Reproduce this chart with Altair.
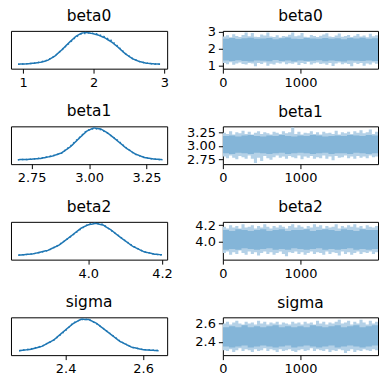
import altair as alt
import pandas as pd

names = ["beta0", "beta1", "beta2", "sigma"]

# ---- KDE panels (left column) ----
kde_x = {
    "beta0": [0.93, 1.05, 1.15, 1.25, 1.35, 1.45, 1.55, 1.65, 1.75, 1.82, 1.88, 1.95, 2.05, 2.15, 2.25, 2.35, 2.45, 2.55, 2.65, 2.75, 2.85, 2.94],
    "beta1": [2.69, 2.74, 2.79, 2.84, 2.88, 2.92, 2.96, 2.99, 3.02, 3.05, 3.08, 3.12, 3.16, 3.20, 3.24, 3.28, 3.32],
    "beta2": [3.81, 3.85, 3.89, 3.92, 3.95, 3.98, 4.00, 4.02, 4.04, 4.06, 4.09, 4.12, 4.15, 4.18, 4.20],
    "sigma": [2.28, 2.31, 2.34, 2.37, 2.40, 2.42, 2.44, 2.46, 2.48, 2.51, 2.54, 2.57, 2.60, 2.64],
}
kde_chain0 = {
    "beta0": [0.01, 0.02, 0.04, 0.07, 0.13, 0.26, 0.46, 0.68, 0.88, 0.97, 1.00, 0.98, 0.93, 0.84, 0.71, 0.53, 0.33, 0.18, 0.09, 0.04, 0.02, 0.01],
    "beta1": [0.01, 0.02, 0.05, 0.12, 0.22, 0.42, 0.70, 0.90, 1.00, 0.97, 0.85, 0.62, 0.38, 0.19, 0.08, 0.03, 0.01],
    "beta2": [0.01, 0.05, 0.16, 0.32, 0.58, 0.85, 0.96, 1.00, 0.95, 0.81, 0.54, 0.29, 0.12, 0.04, 0.02],
    "sigma": [0.01, 0.05, 0.15, 0.35, 0.66, 0.86, 0.99, 0.98, 0.86, 0.58, 0.30, 0.12, 0.04, 0.01],
}
kde_chain1 = {
    "beta0": [0.01, 0.02, 0.04, 0.08, 0.14, 0.27, 0.45, 0.66, 0.86, 0.95, 0.97, 0.99, 0.95, 0.87, 0.75, 0.55, 0.34, 0.19, 0.09, 0.04, 0.02, 0.01],
    "beta1": [0.01, 0.02, 0.06, 0.13, 0.21, 0.44, 0.72, 0.92, 0.98, 0.95, 0.84, 0.64, 0.39, 0.18, 0.08, 0.03, 0.01],
    "beta2": [0.01, 0.05, 0.15, 0.33, 0.57, 0.83, 0.98, 1.01, 0.97, 0.80, 0.55, 0.30, 0.12, 0.04, 0.02],
    "sigma": [0.01, 0.06, 0.16, 0.34, 0.64, 0.88, 0.98, 0.99, 0.85, 0.59, 0.31, 0.12, 0.04, 0.01],
}
kde_domain = {
    "beta0": [0.83, 3.04],
    "beta1": [2.66, 3.34],
    "beta2": [3.79, 4.214],
    "sigma": [2.259, 2.662],
}
value_ticks = {
    "beta0": [1, 2, 3],
    "beta1": [2.75, 3.00, 3.25],
    "beta2": [4.0, 4.2],
    "sigma": [2.4, 2.6],
}
value_format = {"beta0": "d", "beta1": ".2f", "beta2": ".1f", "sigma": ".1f"}

# ---- trace panels (right column): envelopes of the drawn trace, per 40-draw bin ----
trace_domain = {
    "beta0": [0.82, 3.06],
    "beta1": [2.66, 3.36],
    "beta2": [3.78, 4.24],
    "sigma": [2.256, 2.667],
}
outer_hi = {
    "beta0": [2.72, 2.80, 2.68, 2.86, 2.75, 2.70, 2.82, 2.96, 2.74, 2.94, 2.71, 2.69, 2.84, 2.78, 2.97, 2.73, 2.70, 2.80, 2.67, 2.76, 2.72, 2.83, 2.97, 2.74, 2.79, 2.93, 2.71, 2.68, 2.81, 2.75, 2.70, 2.77, 2.85, 2.92, 2.73, 2.69, 2.78, 2.90, 2.71, 2.76, 2.82, 2.70, 2.77, 2.88, 2.73, 2.79, 2.68, 2.89, 2.74, 2.80],
    "beta1": [3.24, 3.22, 3.27, 3.21, 3.25, 3.23, 3.28, 3.22, 3.26, 3.21, 3.24, 3.27, 3.22, 3.25, 3.23, 3.21, 3.26, 3.24, 3.22, 3.27, 3.23, 3.25, 3.34, 3.22, 3.26, 3.21, 3.24, 3.23, 3.27, 3.22, 3.25, 3.21, 3.26, 3.23, 3.24, 3.22, 3.28, 3.21, 3.25, 3.23, 3.26, 3.22, 3.27, 3.24, 3.29, 3.23, 3.25, 3.30, 3.22, 3.26],
    "beta2": [4.18, 4.16, 4.20, 4.17, 4.19, 4.16, 4.21, 4.17, 4.18, 4.20, 4.16, 4.19, 4.17, 4.21, 4.18, 4.16, 4.19, 4.17, 4.20, 4.18, 4.16, 4.19, 4.21, 4.17, 4.20, 4.18, 4.16, 4.19, 4.17, 4.21, 4.18, 4.20, 4.16, 4.19, 4.17, 4.18, 4.21, 4.16, 4.19, 4.17, 4.20, 4.18, 4.21, 4.17, 4.19, 4.16, 4.20, 4.18, 4.17, 4.19],
    "sigma": [2.60, 2.62, 2.59, 2.61, 2.63, 2.60, 2.59, 2.62, 2.60, 2.61, 2.59, 2.63, 2.60, 2.62, 2.59, 2.61, 2.60, 2.62, 2.59, 2.61, 2.60, 2.59, 2.62, 2.60, 2.61, 2.59, 2.62, 2.60, 2.61, 2.59, 2.63, 2.60, 2.62, 2.59, 2.61, 2.60, 2.62, 2.64, 2.60, 2.61, 2.63, 2.59, 2.62, 2.60, 2.64, 2.61, 2.59, 2.63, 2.60, 2.62],
}
outer_lo = {
    "beta0": [1.15, 1.08, 1.20, 1.05, 1.13, 1.18, 1.10, 1.07, 1.16, 1.12, 0.97, 1.15, 1.09, 1.19, 0.99, 1.11, 1.06, 1.17, 1.13, 1.20, 1.08, 1.14, 1.11, 1.18, 1.04, 1.15, 1.10, 1.21, 1.07, 1.14, 1.19, 1.09, 1.13, 1.05, 1.16, 0.98, 1.12, 1.18, 1.08, 1.14, 1.10, 0.96, 1.17, 1.09, 1.15, 1.00, 1.12, 1.07, 1.18, 1.11],
    "beta1": [2.80, 2.77, 2.82, 2.78, 2.75, 2.81, 2.79, 2.76, 2.82, 2.76, 2.68, 2.78, 2.72, 2.81, 2.77, 2.74, 2.79, 2.82, 2.78, 2.80, 2.76, 2.81, 2.79, 2.77, 2.82, 2.75, 2.80, 2.78, 2.81, 2.76, 2.79, 2.77, 2.82, 2.76, 2.80, 2.73, 2.81, 2.78, 2.79, 2.82, 2.77, 2.80, 2.76, 2.81, 2.78, 2.80, 2.77, 2.82, 2.79, 2.80],
    "beta2": [3.86, 3.88, 3.84, 3.87, 3.85, 3.89, 3.86, 3.84, 3.88, 3.85, 3.87, 3.83, 3.86, 3.88, 3.85, 3.87, 3.84, 3.86, 3.88, 3.85, 3.82, 3.87, 3.86, 3.88, 3.85, 3.87, 3.84, 3.86, 3.88, 3.85, 3.87, 3.86, 3.84, 3.88, 3.85, 3.87, 3.86, 3.83, 3.88, 3.85, 3.87, 3.84, 3.86, 3.88, 3.85, 3.87, 3.86, 3.88, 3.85, 3.87],
    "sigma": [2.31, 2.30, 2.32, 2.29, 2.31, 2.33, 2.30, 2.32, 2.31, 2.29, 2.32, 2.30, 2.31, 2.33, 2.30, 2.32, 2.31, 2.29, 2.32, 2.30, 2.31, 2.32, 2.30, 2.29, 2.31, 2.32, 2.30, 2.31, 2.33, 2.30, 2.32, 2.31, 2.30, 2.32, 2.29, 2.31, 2.30, 2.32, 2.31, 2.28, 2.30, 2.32, 2.29, 2.31, 2.30, 2.32, 2.31, 2.30, 2.32, 2.31],
}
# dense core of the trace, per 80-draw bin
inner_hi = {
    "beta0": [2.60, 2.63, 2.58, 2.62, 2.65, 2.59, 2.61, 2.64, 2.57, 2.62, 2.66, 2.60, 2.58, 2.63, 2.61, 2.59, 2.64, 2.60, 2.62, 2.57, 2.63, 2.61, 2.65, 2.59, 2.62],
    "beta1": [3.18, 3.19, 3.17, 3.19, 3.20, 3.18, 3.17, 3.19, 3.18, 3.20, 3.18, 3.17, 3.19, 3.18, 3.20, 3.19, 3.17, 3.18, 3.19, 3.18, 3.20, 3.19, 3.18, 3.20, 3.19],
    "beta2": [4.14, 4.13, 4.15, 4.14, 4.13, 4.14, 4.15, 4.13, 4.14, 4.15, 4.13, 4.14, 4.14, 4.15, 4.13, 4.14, 4.15, 4.14, 4.13, 4.15, 4.14, 4.13, 4.15, 4.14, 4.14],
    "sigma": [2.56, 2.57, 2.56, 2.58, 2.56, 2.57, 2.56, 2.57, 2.58, 2.56, 2.57, 2.56, 2.57, 2.56, 2.58, 2.57, 2.56, 2.57, 2.58, 2.56, 2.57, 2.58, 2.56, 2.57, 2.58],
}
inner_lo = {
    "beta0": [1.30, 1.27, 1.32, 1.28, 1.25, 1.31, 1.29, 1.26, 1.33, 1.28, 1.30, 1.24, 1.31, 1.27, 1.29, 1.32, 1.26, 1.30, 1.28, 1.25, 1.31, 1.29, 1.27, 1.30, 1.28],
    "beta1": [2.86, 2.85, 2.87, 2.86, 2.85, 2.87, 2.86, 2.85, 2.86, 2.87, 2.85, 2.86, 2.87, 2.86, 2.85, 2.86, 2.87, 2.85, 2.86, 2.86, 2.85, 2.87, 2.86, 2.85, 2.86],
    "beta2": [3.90, 3.91, 3.90, 3.92, 3.91, 3.90, 3.91, 3.92, 3.90, 3.91, 3.90, 3.92, 3.91, 3.90, 3.91, 3.92, 3.90, 3.91, 3.90, 3.91, 3.92, 3.90, 3.91, 3.90, 3.91],
    "sigma": [2.35, 2.34, 2.35, 2.36, 2.34, 2.35, 2.36, 2.35, 2.34, 2.35, 2.36, 2.34, 2.35, 2.36, 2.35, 2.34, 2.35, 2.36, 2.34, 2.35, 2.36, 2.35, 2.34, 2.35, 2.36],
}
draw_ticks = [0, 1000]
n_draws = 2000

# title offsets of the trace panels, compensating for top y labels that poke above the frame
trace_title_offset = {"beta0": 1.0, "beta1": 6.0, "beta2": 3.3, "sigma": 6.2}

C0 = "#1f77b4"
LIGHT = "#b4d1e7"
DENSE = "#84b5d8"
TITLE_OFFSET = 6.5


def kde_panel(name):
    xs = kde_x[name]
    n = len(xs)
    df = pd.DataFrame({
        "x": xs + xs,
        "d": kde_chain0[name] + kde_chain1[name],
        "chain": ["0"] * n + ["1"] * n,
    })
    return alt.Chart(df).mark_line(strokeWidth=1.5, color=C0, clip=True).encode(
        x=alt.X("x:Q", scale=alt.Scale(domain=kde_domain[name], nice=False, zero=False),
                axis=alt.Axis(values=value_ticks[name], format=value_format[name], title=None,
                              labelOverlap=False)),
        y=alt.Y("d:Q", scale=alt.Scale(domain=[-0.13, 1.05], nice=False, zero=False), axis=None),
        strokeDash=alt.StrokeDash("chain:N", scale=alt.Scale(domain=["0", "1"], range=[[1, 0], [1.5, 2.5]]), legend=None),
        detail="chain:N",
    ).properties(width=157, height=38, title=alt.TitleParams(name, offset=TITLE_OFFSET))


def trace_panel(name):
    xo = list(range(0, n_draws, 40)) + [n_draws - 1]
    xi = list(range(0, n_draws, 80)) + [n_draws - 1]
    df_o = pd.DataFrame({"x": xo, "lo": outer_lo[name] + outer_lo[name][-1:], "hi": outer_hi[name] + outer_hi[name][-1:]})
    df_i = pd.DataFrame({"x": xi, "lo": inner_lo[name] + inner_lo[name][-1:], "hi": inner_hi[name] + inner_hi[name][-1:]})
    xenc = alt.X("x:Q", scale=alt.Scale(domain=[0, n_draws - 1], nice=False, zero=False),
                 axis=alt.Axis(values=draw_ticks, format="d", title=None, labelOverlap=False))
    yscale = alt.Scale(domain=trace_domain[name], nice=False, zero=False)
    yaxis = alt.Axis(values=value_ticks[name], format=value_format[name], title=None,
                     minExtent=36, maxExtent=36, labelOverlap=False)
    outer = alt.Chart(df_o).mark_area(interpolate="step-after", color=LIGHT, clip=True).encode(
        x=xenc,
        y=alt.Y("lo:Q", scale=yscale, axis=yaxis),
        y2="hi:Q",
    )
    inner = alt.Chart(df_i).mark_area(interpolate="step-after", color=DENSE, clip=True).encode(
        x=xenc,
        y=alt.Y("lo:Q", scale=yscale, axis=yaxis),
        y2="hi:Q",
    )
    return alt.layer(outer, inner).properties(
        width=156, height=38, title=alt.TitleParams(name, offset=trace_title_offset[name]))


panels = []
for nm in names:
    panels.append(kde_panel(nm))
    panels.append(trace_panel(nm))

chart = alt.concat(
    *panels, columns=2, spacing={"row": 58, "column": 56}, bounds="flush"
).properties(
    padding={"left": 2, "top": -1, "right": 2, "bottom": 0}
).configure_view(
    stroke="black", strokeWidth=1
).configure_axis(
    domain=False, grid=False, ticks=True, tickColor="black", tickSize=4.5, tickWidth=1,
    labelColor="black", labelFontSize=13, labelFont="DejaVu Sans", labelPadding=3,
    labelFlush=False, labelOverlap=False,
).configure_title(
    fontSize=15.5, font="DejaVu Sans", fontWeight="normal", color="black"
)

chart.save("out.html", embed_options={"renderer": "svg", "actions": False})
